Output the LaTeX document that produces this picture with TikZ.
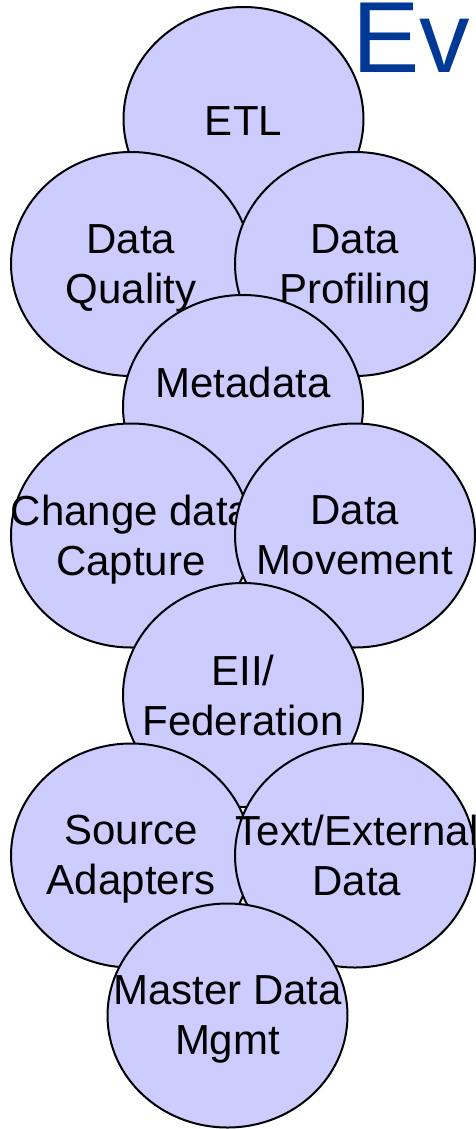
\documentclass[tikz,border=0pt]{standalone}
\usepackage{fontspec}
\setmainfont{Liberation Sans}
\usetikzlibrary{shapes.geometric}
\definecolor{blobfill}{RGB}{204,204,255}
\definecolor{titleblue}{RGB}{0,56,150}
\tikzset{
  blob/.style={ellipse, draw=black, line width=2pt, fill=blobfill,
    minimum width=240pt, minimum height=224pt, inner sep=0pt},
  txt/.style={align=center, inner sep=0pt, font=\fontsize{42}{50}\selectfont},
}
\begin{document}
\begin{tikzpicture}[x=1pt,y=-1pt]
\useasboundingbox (0,0) rectangle (476,1129);
\clip (0,0) rectangle (476,1129);
\node[anchor=base west, inner sep=0pt, text=titleblue, font=\fontsize{101}{110}\selectfont] (title) at (352,73) {Ev};

\node[blob] (etl) at (243.5,119) {};
\node[txt] (etlt) at ([yshift=-2pt]etl.center) {ETL};
\node[blob] (dq) at (131,264) {};
\node[txt] (dqt) at ([yshift=-4pt]dq.center) {Data\\Quality};
\node[blob] (dp) at (355,264) {};
\node[txt] (dpt) at ([yshift=-4pt]dp.center) {Data\\Profiling};
\node[blob] (md) at (243,407) {};
\node[txt] (mdt) at ([yshift=25pt]md.center) {Metadata};
\node[blob] (cdc) at (131,535.5) {};
\node[txt] (cdct) at ([yshift=-4pt]cdc.center) {Change data\\Capture};
\node[blob] (dm) at (355,535.5) {};
\node[txt] (dmt) at (dm.center) {Data\\Movement};
\node[blob] (eii) at (243,695) {};
\node[txt] (eiit) at (eii.center) {EII/\\Federation};
\node[blob] (sa) at (131,855.5) {};
\node[txt] (sat) at ([yshift=-4pt]sa.center) {Source\\Adapters};
\node[blob] (te) at (355,855.5) {};
\node[txt] (tet) at ([xshift=2pt]te.center) {Text/External\\Data};
\node[blob] (mdm) at (227.5,1015.5) {};
\node[txt] (mdmt) at ([yshift=-4pt]mdm.center) {Master Data\\Mgmt};
\end{tikzpicture}
\end{document}
